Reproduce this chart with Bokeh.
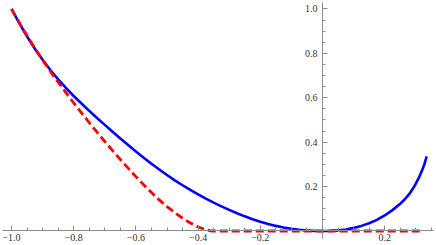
from bokeh.plotting import figure
from bokeh.models import Range1d, FixedTicker
from bokeh.embed import file_html
from bokeh.resources import INLINE

# ---- data ----
blue_x = [-1.000, -0.975, -0.950, -0.925, -0.900, -0.875, -0.850, -0.825, -0.800, -0.775,
          -0.750, -0.725, -0.700, -0.675, -0.650, -0.625, -0.600, -0.575, -0.550, -0.525,
          -0.500, -0.475, -0.450, -0.425, -0.400, -0.375, -0.350, -0.325, -0.300, -0.275,
          -0.250, -0.225, -0.200, -0.175, -0.150, -0.125, -0.100, -0.075, -0.050, -0.025,
          0.000, 0.025, 0.050, 0.075, 0.100, 0.125, 0.150, 0.175, 0.200, 0.225,
          0.250, 0.265, 0.280, 0.295, 0.310, 0.320, 0.328, 0.335]
blue_y = [1.000, 0.936, 0.876, 0.821, 0.771, 0.725, 0.683, 0.644, 0.608, 0.574,
          0.541, 0.509, 0.478, 0.447, 0.417, 0.387, 0.358, 0.330, 0.303, 0.277,
          0.252, 0.228, 0.206, 0.185, 0.165, 0.146, 0.128, 0.111, 0.095, 0.080,
          0.066, 0.053, 0.042, 0.032, 0.023, 0.016, 0.010, 0.0055, 0.0025, 0.0007,
          0.000, 0.0007, 0.003, 0.007, 0.014, 0.023, 0.035, 0.050, 0.070, 0.094,
          0.123, 0.143, 0.168, 0.200, 0.240, 0.272, 0.302, 0.336]

red_x = [-1.000, -0.975, -0.950, -0.925, -0.900, -0.875, -0.850, -0.825, -0.800, -0.775,
         -0.750, -0.725, -0.700, -0.675, -0.650, -0.625, -0.600, -0.575, -0.550, -0.525,
         -0.500, -0.475, -0.450, -0.425, -0.400, -0.375, -0.360, -0.350, 0.000, 0.325]
red_y = [1.000, 0.938, 0.879, 0.823, 0.770, 0.719, 0.670, 0.623, 0.577, 0.532,
         0.488, 0.445, 0.403, 0.362, 0.322, 0.283, 0.245, 0.208, 0.173, 0.140,
         0.110, 0.083, 0.058, 0.036, 0.018, 0.006, 0.001, 0.000, 0.000, 0.000]

x_major = [-1.0, -0.8, -0.6, -0.4, -0.2, 0.2]
x_labels = ["\u22121.0", "\u22120.8", "\u22120.6", "\u22120.4", "\u22120.2", "0.2"]
x_minor = [round(-1.0 + 0.05 * i, 2) for i in range(28)]
y_major = [0.2, 0.4, 0.6, 0.8, 1.0]
y_labels = ["0.2", "0.4", "0.6", "0.8", "1.0"]
y_minor = [round(0.05 * i, 2) for i in range(1, 21)]

p = figure(width=436, height=245,
           x_range=Range1d(-1.0354, 0.3666), y_range=Range1d(-0.0653, 1.038),
           output_backend="svg", toolbar_location=None, min_border=0)
p.outline_line_color = None
p.grid.visible = False
p.background_fill_color = "white"

p.line(blue_x, blue_y, line_color="#0000ff", line_width=2.6, line_join="round")
p.line(red_x, red_y, line_color="#ff0000", line_width=2.8, line_dash="8 4")

axis_col = "#8c8c8c"
for ax in (p.xaxis[0], p.yaxis[0]):
    ax.fixed_location = 0
    ax.axis_line_color = axis_col
    ax.major_tick_line_color = axis_col
    ax.minor_tick_line_color = axis_col
    ax.major_tick_in = 5
    ax.major_tick_out = 0
    ax.minor_tick_in = 3
    ax.minor_tick_out = 0
    ax.major_label_text_font = "Liberation Serif"
    ax.major_label_text_font_size = "10px"
    ax.major_label_text_color = "#333333"

p.xaxis[0].bounds = (-1.03, 0.357)
p.yaxis[0].bounds = (-0.034, 1.03)
p.xaxis[0].ticker = FixedTicker(ticks=x_major, minor_ticks=x_minor)
p.xaxis[0].major_label_overrides = {t: s for t, s in zip(x_major, x_labels)}
p.xaxis[0].major_label_standoff = 3
p.yaxis[0].ticker = FixedTicker(ticks=y_major, minor_ticks=y_minor)
p.yaxis[0].major_label_overrides = {t: s for t, s in zip(y_major, y_labels)}
p.yaxis[0].major_label_standoff = 5

open("out.html", "w").write(file_html(p, INLINE))
